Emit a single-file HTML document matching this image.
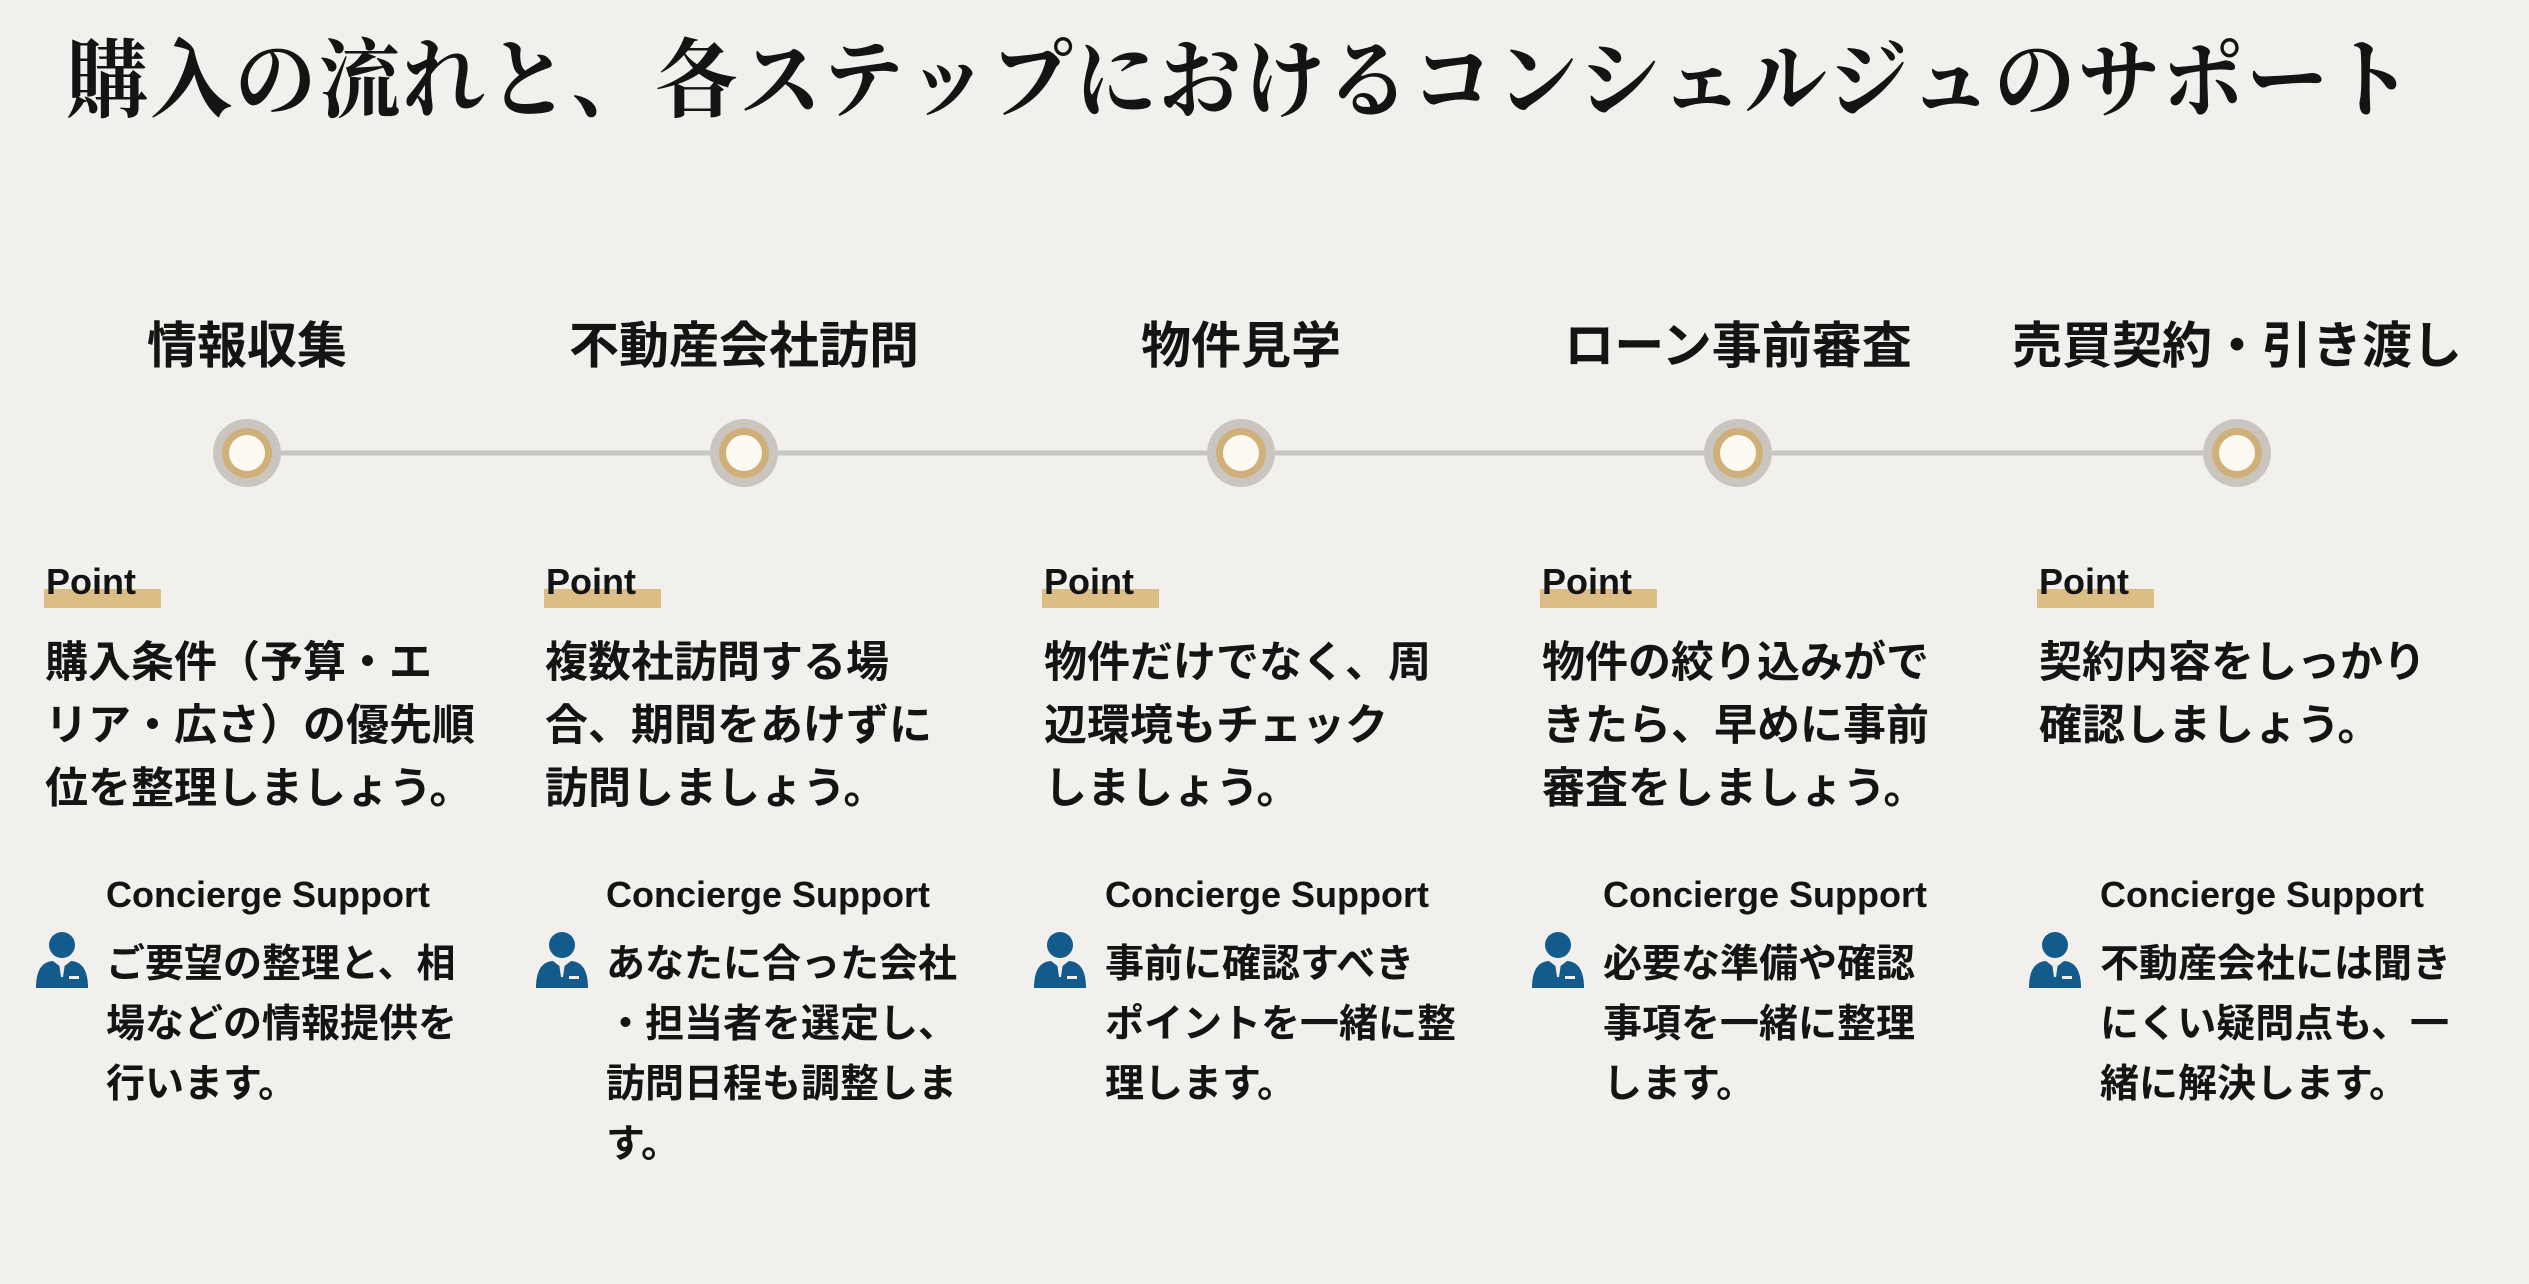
<!DOCTYPE html>
<html><head><meta charset="utf-8"><style>
body{margin:0;width:2529px;height:1284px;background:#f1f0ec;position:relative;overflow:hidden;font-family:"Liberation Sans","Noto Sans CJK JP",sans-serif;color:#141414}
h1{position:absolute;left:66px;top:24px;margin:0;font-family:"Liberation Serif","Noto Serif CJK SC",serif;font-weight:700;font-size:82px;letter-spacing:2.2px;line-height:110px;white-space:nowrap;transform:scaleY(1.05);transform-origin:left top}
.hd{position:absolute;top:314px;width:480px;margin-left:-240px;text-align:center;font-size:50px;font-weight:700;line-height:64px}
.pt{position:absolute;top:560px;font-size:36px;font-weight:700;line-height:44px}
.pt span{position:relative;z-index:1}
.pt i{position:absolute;left:-2px;top:29px;width:117px;height:19px;background:#ddbd86}
.bd{position:absolute;top:632px;font-size:43px;font-weight:700;line-height:63px;white-space:nowrap}
.cs{position:absolute;top:872px;font-size:36px;font-weight:700;line-height:46px;white-space:nowrap}
.sp{position:absolute;top:935px;font-size:39px;font-weight:700;line-height:60px;white-space:nowrap}
.ic{position:absolute;top:930px}
</style></head><body>
<h1>購入の流れと、各ステップにおけるコンシェルジュのサポート</h1>
<svg width="2529" height="1284" style="position:absolute;left:0;top:0">
<line x1="247" y1="453" x2="2237" y2="453" stroke="#c6c5c1" stroke-width="5"/>
<g id="c">
<circle cx="247" cy="453" r="34" fill="#cac6bf"/>
<circle cx="247" cy="453" r="25" fill="#cfb07a"/>
<circle cx="247" cy="453" r="18" fill="#fdfaf1"/>
</g>
<use href="#c" x="497"/><use href="#c" x="994"/><use href="#c" x="1491"/><use href="#c" x="1990"/>
</svg>
<div class="hd" style="left:247px">情報収集</div>
<div class="hd" style="left:744px">不動産会社訪問</div>
<div class="hd" style="left:1241px">物件見学</div>
<div class="hd" style="left:1738px">ローン事前審査</div>
<div class="hd" style="left:2237px">売買契約・引き渡し</div>

<div class="pt" style="left:46px"><i></i><span>Point</span></div>
<div class="pt" style="left:546px"><i></i><span>Point</span></div>
<div class="pt" style="left:1044px"><i></i><span>Point</span></div>
<div class="pt" style="left:1542px"><i></i><span>Point</span></div>
<div class="pt" style="left:2039px"><i></i><span>Point</span></div>

<div class="bd" style="left:45px">購入条件（予算・エ<br>リア・広さ）の優先順<br>位を整理しましょう。</div>
<div class="bd" style="left:545px">複数社訪問する場<br>合、期間をあけずに<br>訪問しましょう。</div>
<div class="bd" style="left:1044px">物件だけでなく、周<br>辺環境もチェック<br>しましょう。</div>
<div class="bd" style="left:1542px">物件の絞り込みがで<br>きたら、早めに事前<br>審査をしましょう。</div>
<div class="bd" style="left:2039px">契約内容をしっかり<br>確認しましょう。</div>

<div class="cs" style="left:106px">Concierge Support</div>
<div class="cs" style="left:606px">Concierge Support</div>
<div class="cs" style="left:1105px">Concierge Support</div>
<div class="cs" style="left:1603px">Concierge Support</div>
<div class="cs" style="left:2100px">Concierge Support</div>

<div class="sp" style="left:106px">ご要望の整理と、相<br>場などの情報提供を<br>行います。</div>
<div class="sp" style="left:606px">あなたに合った会社<br>・担当者を選定し、<br>訪問日程も調整しま<br>す。</div>
<div class="sp" style="left:1105px">事前に確認すべき<br>ポイントを一緒に整<br>理します。</div>
<div class="sp" style="left:1603px">必要な準備や確認<br>事項を一緒に整理<br>します。</div>
<div class="sp" style="left:2100px">不動産会社には聞き<br>にくい疑問点も、一<br>緒に解決します。</div>

<svg width="0" height="0" style="position:absolute"><defs><g id="p">
<circle cx="27" cy="15" r="13" fill="#135b8c"/>
<path d="M1 58 Q1 32 18 31 L27 38 L36 31 Q53 32 53 58 Z" fill="#135b8c"/>
<path d="M24 33 L30 33 L28 47 L26 47 Z" fill="#f1f0ec"/>
<rect x="34" y="46" width="10" height="3" fill="#f1f0ec"/>
</g></defs></svg>
<svg class="ic" style="left:35px" width="56" height="60"><use href="#p"/></svg>
<svg class="ic" style="left:535px" width="56" height="60"><use href="#p"/></svg>
<svg class="ic" style="left:1033px" width="56" height="60"><use href="#p"/></svg>
<svg class="ic" style="left:1531px" width="56" height="60"><use href="#p"/></svg>
<svg class="ic" style="left:2028px" width="56" height="60"><use href="#p"/></svg>
</body></html>
